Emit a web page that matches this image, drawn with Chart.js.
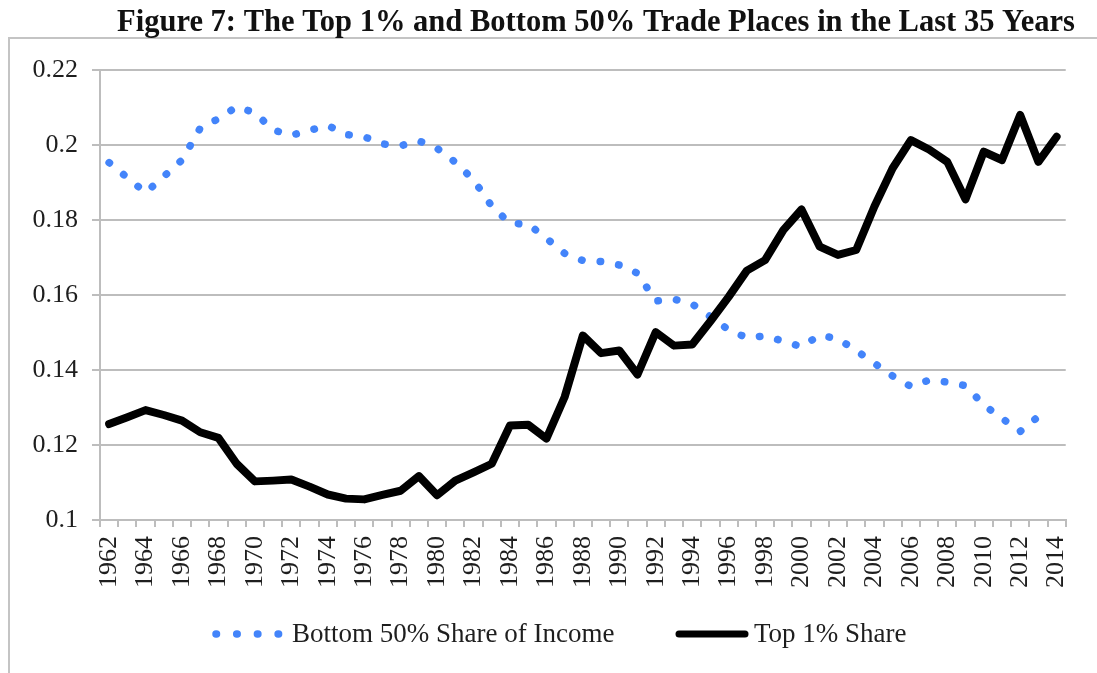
<!DOCTYPE html>
<html><head><meta charset="utf-8">
<script src="https://cdn.jsdelivr.net/npm/chart.js@4.4.1/dist/chart.umd.min.js"></script>
<style>html,body{margin:0;padding:0;background:#fff;overflow:hidden}#wrap{position:relative;width:1097px;height:673px}canvas{display:block}</style>
</head><body><div id="wrap"><canvas id="c" width="1097" height="673"></canvas></div>
<script>
const titleText = 'Figure 7: The Top 1% and Bottom 50% Trade Places in the Last 35 Years';
const years = ['1962','1963','1964','1965','1966','1967','1968','1969','1970','1971',
  '1972','1973','1974','1975','1976','1977','1978','1979','1980','1981',
  '1982','1983','1984','1985','1986','1987','1988','1989','1990','1991',
  '1992','1993','1994','1995','1996','1997','1998','1999','2000','2001',
  '2002','2003','2004','2005','2006','2007','2008','2009','2010','2011',
  '2012','2013','2014'];
const bottom50 = [0.1953,0.1913,0.1873,0.1916,0.1960,0.2045,0.2070,0.2102,0.2086,0.2040,
  0.2026,0.2039,0.2052,0.2028,0.2022,0.2003,0.1998,0.2011,0.1991,0.1954,
  0.1907,0.1837,0.1791,0.1789,0.1751,0.1711,0.1692,0.1689,0.1680,0.1658,
  0.1584,0.1589,0.1576,0.1542,0.1507,0.1486,0.1491,0.1477,0.1462,0.1493,
  0.1483,0.1452,0.1418,0.1384,0.1356,0.1373,0.1368,0.1358,0.1307,0.1271,
  0.1236,0.1276,null];
const top1 = [0.1256,0.1274,0.1293,0.1280,0.1265,0.1234,0.1219,0.1150,0.1103,0.1105,
  0.1108,0.1089,0.1068,0.1057,0.1055,0.1067,0.1078,0.1117,0.1066,0.1105,
  0.1127,0.1150,0.1252,0.1254,0.1217,0.1328,0.1492,0.1445,0.1452,0.1388,
  0.1501,0.1465,0.1468,0.1530,0.1595,0.1665,0.1693,0.1773,0.1828,0.1729,
  0.1707,0.1720,0.1836,0.1938,0.2013,0.1988,0.1955,0.1855,0.1982,0.1960,
  0.2080,0.1955,0.2022];
const seriesLabels = ['Bottom 50% Share of Income', 'Top 1% Share'];
const yTickValues = [0.1, 0.12, 0.14, 0.16, 0.18, 0.2, 0.22];
const yTickLabels = ['0.1', '0.12', '0.14', '0.16', '0.18', '0.2', '0.22'];

const BLUE = '#4384fa';
const GRID = '#bdbdbd';
const TXT = '#1e1e1e';
const FONT = 'Liberation Serif';

const decor = {
  id: 'decor',
  beforeDraw(chart) {
    const ctx = chart.ctx;
    ctx.save();
    ctx.fillStyle = '#fff';
    ctx.fillRect(0, 0, chart.width, chart.height);
    ctx.strokeStyle = '#c4c4c4';
    ctx.lineWidth = 2;
    ctx.beginPath();
    ctx.moveTo(9, chart.height + 2);
    ctx.lineTo(9, 38);
    ctx.lineTo(chart.width + 2, 38);
    ctx.stroke();
    ctx.restore();
  },
  afterDraw(chart) {
    const ctx = chart.ctx;
    ctx.save();
    ctx.fillStyle = '#111';
    ctx.font = 'bold 32px "' + FONT + '"';
    ctx.textBaseline = 'alphabetic';
    ctx.textAlign = 'left';
    const tw = ctx.measureText(titleText).width;
    const target = 958;
    ctx.translate(117, 31);
    ctx.scale(target / tw, 1);
    ctx.fillText(titleText, 0, 0);
    ctx.restore();

    ctx.save();
    const ly = 634;
    ctx.strokeStyle = BLUE;
    ctx.lineWidth = 7.5;
    ctx.lineCap = 'round';
    ctx.setLineDash([0.5, 20.2]);
    ctx.beginPath();
    ctx.moveTo(216, ly);
    ctx.lineTo(280, ly);
    ctx.stroke();
    ctx.setLineDash([]);
    ctx.strokeStyle = '#000';
    ctx.lineWidth = 7;
    ctx.beginPath();
    ctx.moveTo(679, ly);
    ctx.lineTo(745, ly);
    ctx.stroke();
    ctx.fillStyle = TXT;
    ctx.font = '27px "' + FONT + '"';
    ctx.textBaseline = 'middle';
    ctx.fillText(seriesLabels[0], 292, ly + 1);
    ctx.fillText(seriesLabels[1], 754, ly + 1);
    ctx.restore();
  }
};

new Chart(document.getElementById('c'), {
  type: 'line',
  data: {
    labels: years,
    datasets: [
      {
        label: seriesLabels[0],
        data: bottom50,
        borderColor: BLUE,
        backgroundColor: BLUE,
        borderWidth: 7.5,
        borderDash: [0.5, 18.2],
        borderCapStyle: 'round',
        borderJoinStyle: 'round',
        pointRadius: 0,
        tension: 0,
        fill: false,
        order: 1
      },
      {
        label: seriesLabels[1],
        data: top1,
        borderColor: '#000',
        backgroundColor: '#000',
        borderWidth: 8,
        borderCapStyle: 'round',
        borderJoinStyle: 'round',
        pointRadius: 0,
        tension: 0,
        fill: false,
        order: 0
      }
    ]
  },
  options: {
    responsive: false,
    animation: false,
    devicePixelRatio: 1,
    layout: { padding: { left: 0, right: 20, top: 70, bottom: 0 } },
    plugins: { legend: { display: false }, title: { display: false }, tooltip: { enabled: false } },
    scales: {
      x: {
        type: 'category',
        offset: true,
        grid: { offset: true, drawOnChartArea: false, drawTicks: true, color: GRID, lineWidth: 2, tickLength: 7 },
        border: { display: true, color: GRID, width: 2 },
        ticks: {
          autoSkip: false, maxRotation: 90, minRotation: 90, padding: 9, color: TXT,
          font: { family: FONT, size: 26 },
          callback: (v, i) => (i % 2 === 0 ? years[i] : '')
        },
        afterFit: (s) => { s.height = 153; }
      },
      y: {
        min: 0.1, max: 0.22,
        afterBuildTicks: (s) => { s.ticks = yTickValues.map(v => ({ value: v })); },
        grid: { color: GRID, lineWidth: 2, tickLength: 8 },
        border: { display: true, color: GRID, width: 2 },
        ticks: {
          padding: 14, color: TXT, font: { family: FONT, size: 26 },
          callback: (v) => { const i = yTickValues.findIndex(t => Math.abs(t - v) < 1e-9); return i >= 0 ? yTickLabels[i] : ''; }
        },
        afterFit: (s) => { s.width = 100; }
      }
    }
  },
  plugins: [decor]
});
</script>
</body></html>
